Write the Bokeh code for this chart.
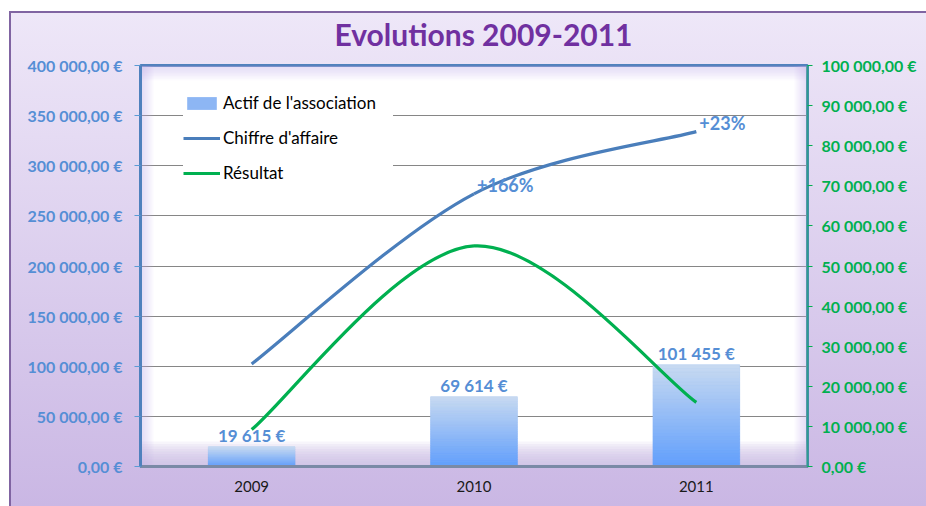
from bokeh.plotting import figure
from bokeh.models import (Range1d, LinearAxis, FixedTicker, ColumnDataSource, Label,
                          Legend, LegendItem, LabelSet, BoxAnnotation)
from bokeh.core.properties import value
from bokeh.embed import file_html
from bokeh.resources import INLINE

# ---------------- data ----------------
years = ["2009", "2010", "2011"]
actif = [19615, 69614, 101455]            # Actif de l'association (left axis)
chiffre = [102300, 272000, 334000]        # Chiffre d'affaire (left axis)
resultat = [9200, 55000, 16000]           # Résultat (right axis)
actif_labels = ["19 615 €", "69 614 €", "101 455 €"]
growth_labels = ["+166%", "+23%"]
left_ticks = [0, 50000, 100000, 150000, 200000, 250000, 300000, 350000, 400000]
right_ticks = [0, 10000, 20000, 30000, 40000, 50000, 60000, 70000, 80000, 90000, 100000]
title_text = "Evolutions 2009-2011"


def eur(v):
    return f"{v:,.2f}".replace(",", " ").replace(".", ",") + " €"


xs = [i + 0.5 for i in range(len(years))]

FONT = "Lato"
BLUE_TXT = "#558ed5"
GREEN = "#00b050"

p = figure(width=917, height=495, x_range=Range1d(0, len(years)), y_range=Range1d(0, 400000),
           output_backend="svg", toolbar_location=None,
           min_border_left=129, min_border_right=121, min_border_top=52, min_border_bottom=42)
p.extra_y_ranges = {"res": Range1d(0, 100000)}

p.border_fill_color = None
p.styles = {"background": "linear-gradient(to bottom, #eee7f8, #cab7e4)",
            "border-left": "2px solid #8064a2", "border-top": "2px solid #8064a2",
            "margin-left": "9px", "margin-top": "11px"}
p.background_fill_color = "white"
p.outline_line_color = "#4f81bd"
p.outline_line_width = 3

# title, placed in the band above the plot area
p.add_layout(Label(x=343, y=32, x_units="screen", y_units="screen", text=title_text,
                   text_align="center", text_baseline="middle", text_font=FONT,
                   text_font_style="bold", text_font_size="30px", text_color="#7030a0"),
             "above")

# soft inner glow of the plot area (style only)
GLOW = "#c9b6e4"
for k in range(1, 11):
    p.add_layout(BoxAnnotation(top=k * 2500, fill_color=GLOW, fill_alpha=0.14,
                               line_color=None, level="underlay"))
    p.add_layout(BoxAnnotation(bottom=400000 - k * 1500, fill_color=GLOW, fill_alpha=0.05,
                               line_color=None, level="underlay"))
    p.add_layout(BoxAnnotation(right=k * 0.006, fill_color=GLOW, fill_alpha=0.05,
                               line_color=None, level="underlay"))
    p.add_layout(BoxAnnotation(left=3 - k * 0.006, fill_color=GLOW, fill_alpha=0.05,
                               line_color=None, level="underlay"))

# grid
p.xgrid.visible = False
p.ygrid.ticker = FixedTicker(ticks=left_ticks)
p.ygrid.grid_line_color = "#868686"
p.ygrid.grid_line_width = 1

# left axis
ya = p.yaxis[0]
ya.ticker = FixedTicker(ticks=left_ticks)
ya.major_label_overrides = {v: eur(v) for v in left_ticks}
ya.major_label_text_color = BLUE_TXT
ya.major_label_text_font = FONT
ya.major_label_text_font_style = "bold"
ya.major_label_text_font_size = "16px"
ya.axis_line_color = "#4f81bd"
ya.axis_line_width = 3
ya.major_tick_line_color = "#5b9bd5"
ya.major_tick_out = 6
ya.major_tick_in = 0
ya.minor_tick_line_color = None
ya.major_label_standoff = 12

# right axis
ra = LinearAxis(y_range_name="res", ticker=FixedTicker(ticks=right_ticks))
ra.major_label_overrides = {v: eur(v) for v in right_ticks}
ra.major_label_text_color = GREEN
ra.major_label_text_font = FONT
ra.major_label_text_font_style = "bold"
ra.major_label_text_font_size = "16px"
ra.axis_line_color = "#2e9e8e"
ra.axis_line_width = 2
ra.major_tick_line_color = GREEN
ra.major_tick_out = 5
ra.major_tick_in = 0
ra.minor_tick_line_color = None
ra.major_label_standoff = 9
p.add_layout(ra, "right")

# bottom axis
xa = p.xaxis[0]
xa.ticker = FixedTicker(ticks=xs)
xa.major_label_overrides = {x: y for x, y in zip(xs, years)}
xa.major_label_text_color = "#1a1a1a"
xa.major_label_text_font = FONT
xa.major_label_text_font_size = "15px"
xa.axis_line_color = "#7a8aa6"
xa.axis_line_width = 3
xa.major_tick_line_color = None
xa.minor_tick_line_color = None
xa.major_label_standoff = 8

# bars with vertical gradient
bar_w = 0.39
base = p.vbar(x=xs, top=actif, width=bar_w, fill_color="#8db6f4", line_color=None)
N = 30
c_bot = (0x60, 0x9e, 0xfc)
c_top = (0xc8, 0xda, 0xf1)
seg = dict(x=[], b=[], t=[], c=[])
for k in range(N):
    f0, f1 = k / N, (k + 1) / N
    tt = (k + 0.5) / N
    col = "#%02x%02x%02x" % tuple(int(round(a + (b - a) * tt)) for a, b in zip(c_bot, c_top))
    for x, v in zip(xs, actif):
        seg["x"].append(x)
        seg["b"].append(v * f0)
        seg["t"].append(v * f1)
        seg["c"].append(col)
p.vbar(x="x", bottom="b", top="t", width=bar_w, fill_color="c", line_color="c",
       line_width=0.6, source=ColumnDataSource(seg))


# smooth lines (Catmull-Rom -> cubic Bezier, like Excel's smoothed lines)
def smooth(xv, yv):
    n = len(xv)
    d = dict(x0=[], y0=[], x1=[], y1=[], cx0=[], cy0=[], cx1=[], cy1=[])
    for i in range(n - 1):
        a = max(i - 1, 0)
        b = min(i + 2, n - 1)
        d["x0"].append(xv[i]); d["y0"].append(yv[i])
        d["x1"].append(xv[i + 1]); d["y1"].append(yv[i + 1])
        d["cx0"].append(xv[i] + (xv[i + 1] - xv[a]) / 6)
        d["cy0"].append(yv[i] + (yv[i + 1] - yv[a]) / 6)
        d["cx1"].append(xv[i + 1] - (xv[b] - xv[i]) / 6)
        d["cy1"].append(yv[i + 1] - (yv[b] - yv[i]) / 6)
    return ColumnDataSource(d)


r_ca = p.bezier(x0="x0", y0="y0", x1="x1", y1="y1", cx0="cx0", cy0="cy0", cx1="cx1", cy1="cy1",
                source=smooth(xs, chiffre), line_color="#4a7ebb", line_width=3.2)
r_res = p.bezier(x0="x0", y0="y0", x1="x1", y1="y1", cx0="cx0", cy0="cy0", cx1="cx1", cy1="cy1",
                 source=smooth(xs, resultat), line_color=GREEN, line_width=3.2, y_range_name="res")

# labels
p.add_layout(LabelSet(x="x", y="y", text="t",
                      source=ColumnDataSource(dict(x=xs, y=actif, t=actif_labels)),
                      text_align="center", text_baseline="bottom", y_offset=1,
                      text_font=value(FONT), text_font_style="bold", text_font_size="17px",
                      text_color=BLUE_TXT))
p.add_layout(LabelSet(x="x", y="y", text="t",
                      source=ColumnDataSource(dict(x=xs[1:], y=chiffre[1:], t=growth_labels)),
                      text_align="left", text_baseline="middle", x_offset=3, y_offset=9,
                      text_font=value(FONT), text_font_style="bold", text_font_size="18px",
                      text_color=BLUE_TXT))

# legend
legend = Legend(items=[LegendItem(label="Actif de l'association", renderers=[base]),
                       LegendItem(label="Chiffre d'affaire", renderers=[r_ca]),
                       LegendItem(label="Résultat", renderers=[r_res])],
                location=(43, 283), background_fill_color="white", background_fill_alpha=1,
                border_line_color=None, label_text_font=FONT, label_text_font_size="17px",
                label_text_color="black", glyph_width=37, glyph_height=16, label_height=20,
                label_width=170, spacing=14, padding=9, margin=0, label_standoff=3)
p.add_layout(legend)

open("out.html", "w").write(file_html(p, INLINE))
